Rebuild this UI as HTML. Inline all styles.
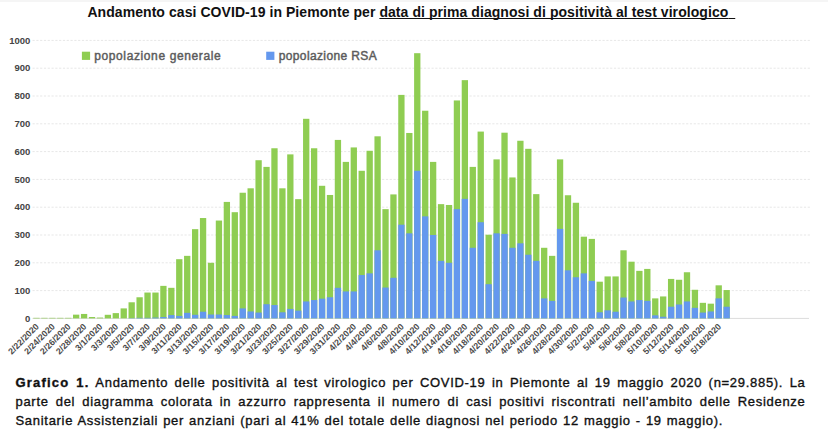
<!DOCTYPE html>
<html><head><meta charset="utf-8">
<style>
html,body{margin:0;padding:0;background:#fff;}
body{width:828px;height:436px;position:relative;overflow:hidden;font-family:"Liberation Sans",sans-serif;}
.topband{position:absolute;left:0;top:0;width:828px;height:1.5px;background:#f5f5f5;}
.title{position:absolute;left:87.4px;top:3px;width:740px;text-align:left;font-weight:bold;font-size:14px;line-height:18px;color:#111;white-space:pre;letter-spacing:0.065px;}
.title span.t{display:inline-block;}
.title u{text-decoration:underline;text-decoration-thickness:1.3px;text-underline-offset:1.2px;text-decoration-skip-ink:none;}
svg text{font-family:"Liberation Sans",sans-serif;}
.yl{font-size:9.5px;font-weight:bold;fill:#444;}
.xl{font-size:8.8px;font-weight:bold;fill:#4a4a4a;}
.lg{font-size:12px;font-weight:normal;fill:#5c5c5c;stroke:#5c5c5c;stroke-width:0.45px;}
.cap{position:absolute;left:15.5px;top:372.6px;width:790px;font-size:13px;line-height:19.25px;color:#111;letter-spacing:0.7px;-webkit-text-stroke:0.35px #111;}
.cap b{letter-spacing:1.2px;}
.cap div{text-align:justify;text-align-last:justify;white-space:nowrap;height:19.25px;}
.cap div.last{text-align:left;text-align-last:left;width:707.5px;text-align:justify;text-align-last:justify;}
</style></head><body>
<div class="topband"></div>
<div class="title"><span class="t" id="ttl">Andamento casi COVID-19 in Piemonte per <u>data di prima diagnosi di positività al test virologico<span style="letter-spacing:3px"> </span></u></span></div>
<svg width="828" height="370" viewBox="0 0 828 370" style="position:absolute;left:0;top:0">
<line x1="32.5" y1="290.60" x2="810" y2="290.60" stroke="#e7e7e7" stroke-width="1" stroke-dasharray="2.2 1.6"/>
<line x1="32.5" y1="262.80" x2="810" y2="262.80" stroke="#e7e7e7" stroke-width="1" stroke-dasharray="2.2 1.6"/>
<line x1="32.5" y1="235.00" x2="810" y2="235.00" stroke="#e7e7e7" stroke-width="1" stroke-dasharray="2.2 1.6"/>
<line x1="32.5" y1="207.20" x2="810" y2="207.20" stroke="#e7e7e7" stroke-width="1" stroke-dasharray="2.2 1.6"/>
<line x1="32.5" y1="179.40" x2="810" y2="179.40" stroke="#e7e7e7" stroke-width="1" stroke-dasharray="2.2 1.6"/>
<line x1="32.5" y1="151.60" x2="810" y2="151.60" stroke="#e7e7e7" stroke-width="1" stroke-dasharray="2.2 1.6"/>
<line x1="32.5" y1="123.80" x2="810" y2="123.80" stroke="#e7e7e7" stroke-width="1" stroke-dasharray="2.2 1.6"/>
<line x1="32.5" y1="96.00" x2="810" y2="96.00" stroke="#e7e7e7" stroke-width="1" stroke-dasharray="2.2 1.6"/>
<line x1="32.5" y1="68.20" x2="810" y2="68.20" stroke="#e7e7e7" stroke-width="1" stroke-dasharray="2.2 1.6"/>
<line x1="32.5" y1="40.40" x2="810" y2="40.40" stroke="#e7e7e7" stroke-width="1" stroke-dasharray="2.2 1.6"/>
<line x1="32.5" y1="318.40" x2="809" y2="318.40" stroke="#dcdcdc" stroke-width="1"/>
<rect x="33.33" y="317.84" width="6.3" height="0.56" fill="#8fcd52"/>
<rect x="41.26" y="317.84" width="6.3" height="0.56" fill="#8fcd52"/>
<rect x="49.20" y="317.84" width="6.3" height="0.56" fill="#8fcd52"/>
<rect x="57.13" y="317.84" width="6.3" height="0.56" fill="#8fcd52"/>
<rect x="65.06" y="317.84" width="6.3" height="0.56" fill="#8fcd52"/>
<rect x="73.00" y="314.65" width="6.3" height="3.75" fill="#8fcd52"/>
<rect x="80.93" y="313.95" width="6.3" height="4.45" fill="#8fcd52"/>
<rect x="88.86" y="317.01" width="6.3" height="1.39" fill="#8fcd52"/>
<rect x="96.79" y="317.57" width="6.3" height="0.83" fill="#8fcd52"/>
<rect x="104.73" y="314.79" width="6.3" height="3.61" fill="#8fcd52"/>
<rect x="112.66" y="313.12" width="6.3" height="5.28" fill="#8fcd52"/>
<rect x="120.59" y="308.39" width="6.3" height="10.01" fill="#8fcd52"/>
<rect x="128.53" y="302.28" width="6.3" height="16.12" fill="#8fcd52"/>
<rect x="128.53" y="318.12" width="6.3" height="0.28" fill="#6498ee"/>
<rect x="136.46" y="297.27" width="6.3" height="21.13" fill="#8fcd52"/>
<rect x="136.46" y="317.84" width="6.3" height="0.56" fill="#6498ee"/>
<rect x="144.39" y="292.55" width="6.3" height="25.85" fill="#8fcd52"/>
<rect x="144.39" y="317.84" width="6.3" height="0.56" fill="#6498ee"/>
<rect x="152.32" y="292.55" width="6.3" height="25.85" fill="#8fcd52"/>
<rect x="152.32" y="317.57" width="6.3" height="0.83" fill="#6498ee"/>
<rect x="160.26" y="285.87" width="6.3" height="32.53" fill="#8fcd52"/>
<rect x="160.26" y="317.01" width="6.3" height="1.39" fill="#6498ee"/>
<rect x="168.19" y="287.82" width="6.3" height="30.58" fill="#8fcd52"/>
<rect x="168.19" y="315.06" width="6.3" height="3.34" fill="#6498ee"/>
<rect x="176.12" y="259.19" width="6.3" height="59.21" fill="#8fcd52"/>
<rect x="176.12" y="315.90" width="6.3" height="2.50" fill="#6498ee"/>
<rect x="184.06" y="255.85" width="6.3" height="62.55" fill="#8fcd52"/>
<rect x="184.06" y="312.84" width="6.3" height="5.56" fill="#6498ee"/>
<rect x="191.99" y="229.16" width="6.3" height="89.24" fill="#8fcd52"/>
<rect x="191.99" y="314.79" width="6.3" height="3.61" fill="#6498ee"/>
<rect x="199.92" y="218.04" width="6.3" height="100.36" fill="#8fcd52"/>
<rect x="199.92" y="311.73" width="6.3" height="6.67" fill="#6498ee"/>
<rect x="207.86" y="262.80" width="6.3" height="55.60" fill="#8fcd52"/>
<rect x="207.86" y="314.51" width="6.3" height="3.89" fill="#6498ee"/>
<rect x="215.79" y="220.54" width="6.3" height="97.86" fill="#8fcd52"/>
<rect x="215.79" y="314.51" width="6.3" height="3.89" fill="#6498ee"/>
<rect x="223.72" y="201.92" width="6.3" height="116.48" fill="#8fcd52"/>
<rect x="223.72" y="315.06" width="6.3" height="3.34" fill="#6498ee"/>
<rect x="231.65" y="212.20" width="6.3" height="106.20" fill="#8fcd52"/>
<rect x="231.65" y="315.90" width="6.3" height="2.50" fill="#6498ee"/>
<rect x="239.59" y="192.74" width="6.3" height="125.66" fill="#8fcd52"/>
<rect x="239.59" y="308.39" width="6.3" height="10.01" fill="#6498ee"/>
<rect x="247.52" y="188.30" width="6.3" height="130.10" fill="#8fcd52"/>
<rect x="247.52" y="311.45" width="6.3" height="6.95" fill="#6498ee"/>
<rect x="255.45" y="160.22" width="6.3" height="158.18" fill="#8fcd52"/>
<rect x="255.45" y="312.56" width="6.3" height="5.84" fill="#6498ee"/>
<rect x="263.39" y="166.89" width="6.3" height="151.51" fill="#8fcd52"/>
<rect x="263.39" y="304.22" width="6.3" height="14.18" fill="#6498ee"/>
<rect x="271.32" y="148.26" width="6.3" height="170.14" fill="#8fcd52"/>
<rect x="271.32" y="305.06" width="6.3" height="13.34" fill="#6498ee"/>
<rect x="279.25" y="188.30" width="6.3" height="130.10" fill="#8fcd52"/>
<rect x="279.25" y="312.28" width="6.3" height="6.12" fill="#6498ee"/>
<rect x="287.19" y="154.38" width="6.3" height="164.02" fill="#8fcd52"/>
<rect x="287.19" y="308.95" width="6.3" height="9.45" fill="#6498ee"/>
<rect x="295.12" y="199.14" width="6.3" height="119.26" fill="#8fcd52"/>
<rect x="295.12" y="310.62" width="6.3" height="7.78" fill="#6498ee"/>
<rect x="303.05" y="118.80" width="6.3" height="199.60" fill="#8fcd52"/>
<rect x="303.05" y="301.44" width="6.3" height="16.96" fill="#6498ee"/>
<rect x="310.98" y="148.26" width="6.3" height="170.14" fill="#8fcd52"/>
<rect x="310.98" y="300.05" width="6.3" height="18.35" fill="#6498ee"/>
<rect x="318.92" y="185.79" width="6.3" height="132.61" fill="#8fcd52"/>
<rect x="318.92" y="298.66" width="6.3" height="19.74" fill="#6498ee"/>
<rect x="326.85" y="194.97" width="6.3" height="123.43" fill="#8fcd52"/>
<rect x="326.85" y="297.27" width="6.3" height="21.13" fill="#6498ee"/>
<rect x="334.78" y="139.92" width="6.3" height="178.48" fill="#8fcd52"/>
<rect x="334.78" y="287.82" width="6.3" height="30.58" fill="#6498ee"/>
<rect x="342.72" y="161.89" width="6.3" height="156.51" fill="#8fcd52"/>
<rect x="342.72" y="291.43" width="6.3" height="26.97" fill="#6498ee"/>
<rect x="350.65" y="147.43" width="6.3" height="170.97" fill="#8fcd52"/>
<rect x="350.65" y="291.43" width="6.3" height="26.97" fill="#6498ee"/>
<rect x="358.58" y="170.78" width="6.3" height="147.62" fill="#8fcd52"/>
<rect x="358.58" y="275.03" width="6.3" height="43.37" fill="#6498ee"/>
<rect x="366.52" y="150.77" width="6.3" height="167.63" fill="#8fcd52"/>
<rect x="366.52" y="273.36" width="6.3" height="45.04" fill="#6498ee"/>
<rect x="374.45" y="136.31" width="6.3" height="182.09" fill="#8fcd52"/>
<rect x="374.45" y="250.29" width="6.3" height="68.11" fill="#6498ee"/>
<rect x="382.38" y="209.15" width="6.3" height="109.25" fill="#8fcd52"/>
<rect x="382.38" y="287.54" width="6.3" height="30.86" fill="#6498ee"/>
<rect x="390.31" y="194.41" width="6.3" height="123.99" fill="#8fcd52"/>
<rect x="390.31" y="277.81" width="6.3" height="40.59" fill="#6498ee"/>
<rect x="398.25" y="94.89" width="6.3" height="223.51" fill="#8fcd52"/>
<rect x="398.25" y="224.71" width="6.3" height="93.69" fill="#6498ee"/>
<rect x="406.18" y="132.97" width="6.3" height="185.43" fill="#8fcd52"/>
<rect x="406.18" y="233.33" width="6.3" height="85.07" fill="#6498ee"/>
<rect x="414.11" y="53.19" width="6.3" height="265.21" fill="#8fcd52"/>
<rect x="414.11" y="170.78" width="6.3" height="147.62" fill="#6498ee"/>
<rect x="422.05" y="110.73" width="6.3" height="207.67" fill="#8fcd52"/>
<rect x="422.05" y="216.37" width="6.3" height="102.03" fill="#6498ee"/>
<rect x="429.98" y="161.89" width="6.3" height="156.51" fill="#8fcd52"/>
<rect x="429.98" y="235.00" width="6.3" height="83.40" fill="#6498ee"/>
<rect x="437.91" y="204.14" width="6.3" height="114.26" fill="#8fcd52"/>
<rect x="437.91" y="260.85" width="6.3" height="57.55" fill="#6498ee"/>
<rect x="445.85" y="204.98" width="6.3" height="113.42" fill="#8fcd52"/>
<rect x="445.85" y="262.80" width="6.3" height="55.60" fill="#6498ee"/>
<rect x="453.78" y="100.45" width="6.3" height="217.95" fill="#8fcd52"/>
<rect x="453.78" y="209.15" width="6.3" height="109.25" fill="#6498ee"/>
<rect x="461.71" y="80.15" width="6.3" height="238.25" fill="#8fcd52"/>
<rect x="461.71" y="198.86" width="6.3" height="119.54" fill="#6498ee"/>
<rect x="469.64" y="166.89" width="6.3" height="151.51" fill="#8fcd52"/>
<rect x="469.64" y="247.79" width="6.3" height="70.61" fill="#6498ee"/>
<rect x="477.58" y="131.58" width="6.3" height="186.82" fill="#8fcd52"/>
<rect x="477.58" y="222.21" width="6.3" height="96.19" fill="#6498ee"/>
<rect x="485.51" y="234.72" width="6.3" height="83.68" fill="#8fcd52"/>
<rect x="485.51" y="284.21" width="6.3" height="34.19" fill="#6498ee"/>
<rect x="493.44" y="159.38" width="6.3" height="159.02" fill="#8fcd52"/>
<rect x="493.44" y="233.33" width="6.3" height="85.07" fill="#6498ee"/>
<rect x="501.38" y="132.70" width="6.3" height="185.70" fill="#8fcd52"/>
<rect x="501.38" y="233.89" width="6.3" height="84.51" fill="#6498ee"/>
<rect x="509.31" y="177.45" width="6.3" height="140.95" fill="#8fcd52"/>
<rect x="509.31" y="247.79" width="6.3" height="70.61" fill="#6498ee"/>
<rect x="517.24" y="140.76" width="6.3" height="177.64" fill="#8fcd52"/>
<rect x="517.24" y="243.34" width="6.3" height="75.06" fill="#6498ee"/>
<rect x="525.18" y="148.82" width="6.3" height="169.58" fill="#8fcd52"/>
<rect x="525.18" y="254.74" width="6.3" height="63.66" fill="#6498ee"/>
<rect x="533.11" y="194.13" width="6.3" height="124.27" fill="#8fcd52"/>
<rect x="533.11" y="260.85" width="6.3" height="57.55" fill="#6498ee"/>
<rect x="541.04" y="247.79" width="6.3" height="70.61" fill="#8fcd52"/>
<rect x="541.04" y="298.38" width="6.3" height="20.02" fill="#6498ee"/>
<rect x="548.98" y="255.85" width="6.3" height="62.55" fill="#8fcd52"/>
<rect x="548.98" y="300.89" width="6.3" height="17.51" fill="#6498ee"/>
<rect x="556.91" y="159.38" width="6.3" height="159.02" fill="#8fcd52"/>
<rect x="556.91" y="228.88" width="6.3" height="89.52" fill="#6498ee"/>
<rect x="564.84" y="195.25" width="6.3" height="123.15" fill="#8fcd52"/>
<rect x="564.84" y="270.31" width="6.3" height="48.09" fill="#6498ee"/>
<rect x="572.77" y="202.75" width="6.3" height="115.65" fill="#8fcd52"/>
<rect x="572.77" y="277.26" width="6.3" height="41.14" fill="#6498ee"/>
<rect x="580.71" y="236.67" width="6.3" height="81.73" fill="#8fcd52"/>
<rect x="580.71" y="273.36" width="6.3" height="45.04" fill="#6498ee"/>
<rect x="588.64" y="238.89" width="6.3" height="79.51" fill="#8fcd52"/>
<rect x="588.64" y="280.87" width="6.3" height="37.53" fill="#6498ee"/>
<rect x="596.57" y="281.70" width="6.3" height="36.70" fill="#8fcd52"/>
<rect x="596.57" y="312.28" width="6.3" height="6.12" fill="#6498ee"/>
<rect x="604.51" y="276.42" width="6.3" height="41.98" fill="#8fcd52"/>
<rect x="604.51" y="310.34" width="6.3" height="8.06" fill="#6498ee"/>
<rect x="612.44" y="276.42" width="6.3" height="41.98" fill="#8fcd52"/>
<rect x="612.44" y="311.73" width="6.3" height="6.67" fill="#6498ee"/>
<rect x="620.37" y="250.29" width="6.3" height="68.11" fill="#8fcd52"/>
<rect x="620.37" y="297.55" width="6.3" height="20.85" fill="#6498ee"/>
<rect x="628.31" y="261.69" width="6.3" height="56.71" fill="#8fcd52"/>
<rect x="628.31" y="301.44" width="6.3" height="16.96" fill="#6498ee"/>
<rect x="636.24" y="270.86" width="6.3" height="47.54" fill="#8fcd52"/>
<rect x="636.24" y="300.05" width="6.3" height="18.35" fill="#6498ee"/>
<rect x="644.17" y="268.92" width="6.3" height="49.48" fill="#8fcd52"/>
<rect x="644.17" y="300.89" width="6.3" height="17.51" fill="#6498ee"/>
<rect x="652.10" y="298.38" width="6.3" height="20.02" fill="#8fcd52"/>
<rect x="652.10" y="315.34" width="6.3" height="3.06" fill="#6498ee"/>
<rect x="660.04" y="296.44" width="6.3" height="21.96" fill="#8fcd52"/>
<rect x="660.04" y="316.73" width="6.3" height="1.67" fill="#6498ee"/>
<rect x="667.97" y="278.92" width="6.3" height="39.48" fill="#8fcd52"/>
<rect x="667.97" y="306.72" width="6.3" height="11.68" fill="#6498ee"/>
<rect x="675.90" y="279.76" width="6.3" height="38.64" fill="#8fcd52"/>
<rect x="675.90" y="304.50" width="6.3" height="13.90" fill="#6498ee"/>
<rect x="683.84" y="272.25" width="6.3" height="46.15" fill="#8fcd52"/>
<rect x="683.84" y="301.44" width="6.3" height="16.96" fill="#6498ee"/>
<rect x="691.77" y="289.77" width="6.3" height="28.63" fill="#8fcd52"/>
<rect x="691.77" y="307.84" width="6.3" height="10.56" fill="#6498ee"/>
<rect x="699.70" y="302.83" width="6.3" height="15.57" fill="#8fcd52"/>
<rect x="699.70" y="312.56" width="6.3" height="5.84" fill="#6498ee"/>
<rect x="707.63" y="303.67" width="6.3" height="14.73" fill="#8fcd52"/>
<rect x="707.63" y="311.45" width="6.3" height="6.95" fill="#6498ee"/>
<rect x="715.57" y="285.32" width="6.3" height="33.08" fill="#8fcd52"/>
<rect x="715.57" y="298.38" width="6.3" height="20.02" fill="#6498ee"/>
<rect x="723.50" y="290.04" width="6.3" height="28.36" fill="#8fcd52"/>
<rect x="723.50" y="306.72" width="6.3" height="11.68" fill="#6498ee"/>
<text x="30.3" y="321.50" text-anchor="end" class="yl">0</text>
<text x="30.3" y="293.70" text-anchor="end" class="yl">100</text>
<text x="30.3" y="265.90" text-anchor="end" class="yl">200</text>
<text x="30.3" y="238.10" text-anchor="end" class="yl">300</text>
<text x="30.3" y="210.30" text-anchor="end" class="yl">400</text>
<text x="30.3" y="182.50" text-anchor="end" class="yl">500</text>
<text x="30.3" y="154.70" text-anchor="end" class="yl">600</text>
<text x="30.3" y="126.90" text-anchor="end" class="yl">700</text>
<text x="30.3" y="99.10" text-anchor="end" class="yl">800</text>
<text x="30.3" y="71.30" text-anchor="end" class="yl">900</text>
<text x="30.3" y="43.50" text-anchor="end" class="yl">1000</text>
<text transform="translate(39.48,327.2) rotate(-45)" text-anchor="end" class="xl">2/22/2020</text>
<text transform="translate(55.35,327.2) rotate(-45)" text-anchor="end" class="xl">2/24/2020</text>
<text transform="translate(71.21,327.2) rotate(-45)" text-anchor="end" class="xl">2/26/2020</text>
<text transform="translate(87.08,327.2) rotate(-45)" text-anchor="end" class="xl">2/28/2020</text>
<text transform="translate(102.94,327.2) rotate(-45)" text-anchor="end" class="xl">3/1/2020</text>
<text transform="translate(118.81,327.2) rotate(-45)" text-anchor="end" class="xl">3/3/2020</text>
<text transform="translate(134.68,327.2) rotate(-45)" text-anchor="end" class="xl">3/5/2020</text>
<text transform="translate(150.54,327.2) rotate(-45)" text-anchor="end" class="xl">3/7/2020</text>
<text transform="translate(166.41,327.2) rotate(-45)" text-anchor="end" class="xl">3/9/2020</text>
<text transform="translate(182.27,327.2) rotate(-45)" text-anchor="end" class="xl">3/11/2020</text>
<text transform="translate(198.14,327.2) rotate(-45)" text-anchor="end" class="xl">3/13/2020</text>
<text transform="translate(214.01,327.2) rotate(-45)" text-anchor="end" class="xl">3/15/2020</text>
<text transform="translate(229.87,327.2) rotate(-45)" text-anchor="end" class="xl">3/17/2020</text>
<text transform="translate(245.74,327.2) rotate(-45)" text-anchor="end" class="xl">3/19/2020</text>
<text transform="translate(261.60,327.2) rotate(-45)" text-anchor="end" class="xl">3/21/2020</text>
<text transform="translate(277.47,327.2) rotate(-45)" text-anchor="end" class="xl">3/23/2020</text>
<text transform="translate(293.34,327.2) rotate(-45)" text-anchor="end" class="xl">3/25/2020</text>
<text transform="translate(309.20,327.2) rotate(-45)" text-anchor="end" class="xl">3/27/2020</text>
<text transform="translate(325.07,327.2) rotate(-45)" text-anchor="end" class="xl">3/29/2020</text>
<text transform="translate(340.93,327.2) rotate(-45)" text-anchor="end" class="xl">3/31/2020</text>
<text transform="translate(356.80,327.2) rotate(-45)" text-anchor="end" class="xl">4/2/2020</text>
<text transform="translate(372.67,327.2) rotate(-45)" text-anchor="end" class="xl">4/4/2020</text>
<text transform="translate(388.53,327.2) rotate(-45)" text-anchor="end" class="xl">4/6/2020</text>
<text transform="translate(404.40,327.2) rotate(-45)" text-anchor="end" class="xl">4/8/2020</text>
<text transform="translate(420.26,327.2) rotate(-45)" text-anchor="end" class="xl">4/10/2020</text>
<text transform="translate(436.13,327.2) rotate(-45)" text-anchor="end" class="xl">4/12/2020</text>
<text transform="translate(452.00,327.2) rotate(-45)" text-anchor="end" class="xl">4/14/2020</text>
<text transform="translate(467.86,327.2) rotate(-45)" text-anchor="end" class="xl">4/16/2020</text>
<text transform="translate(483.73,327.2) rotate(-45)" text-anchor="end" class="xl">4/18/2020</text>
<text transform="translate(499.59,327.2) rotate(-45)" text-anchor="end" class="xl">4/20/2020</text>
<text transform="translate(515.46,327.2) rotate(-45)" text-anchor="end" class="xl">4/22/2020</text>
<text transform="translate(531.33,327.2) rotate(-45)" text-anchor="end" class="xl">4/24/2020</text>
<text transform="translate(547.19,327.2) rotate(-45)" text-anchor="end" class="xl">4/26/2020</text>
<text transform="translate(563.06,327.2) rotate(-45)" text-anchor="end" class="xl">4/28/2020</text>
<text transform="translate(578.92,327.2) rotate(-45)" text-anchor="end" class="xl">4/30/2020</text>
<text transform="translate(594.79,327.2) rotate(-45)" text-anchor="end" class="xl">5/2/2020</text>
<text transform="translate(610.66,327.2) rotate(-45)" text-anchor="end" class="xl">5/4/2020</text>
<text transform="translate(626.52,327.2) rotate(-45)" text-anchor="end" class="xl">5/6/2020</text>
<text transform="translate(642.39,327.2) rotate(-45)" text-anchor="end" class="xl">5/8/2020</text>
<text transform="translate(658.25,327.2) rotate(-45)" text-anchor="end" class="xl">5/10/2020</text>
<text transform="translate(674.12,327.2) rotate(-45)" text-anchor="end" class="xl">5/12/2020</text>
<text transform="translate(689.99,327.2) rotate(-45)" text-anchor="end" class="xl">5/14/2020</text>
<text transform="translate(705.85,327.2) rotate(-45)" text-anchor="end" class="xl">5/16/2020</text>
<text transform="translate(721.72,327.2) rotate(-45)" text-anchor="end" class="xl">5/18/2020</text>
<rect x="81.9" y="51.7" width="8.2" height="8.2" fill="#8fcd52"/>
<text x="94.2" y="60" class="lg" textLength="126.5" lengthAdjust="spacing">popolazione generale</text>
<rect x="266.2" y="51.7" width="8.2" height="8.2" fill="#6498ee"/>
<text x="278.7" y="60" class="lg" textLength="98" lengthAdjust="spacing">popolazione RSA</text>
</svg>
<div class="cap">
<div><b>Grafico 1.</b> Andamento delle positività al test virologico per COVID-19 in Piemonte al 19 maggio 2020 (n=29.885). La</div>
<div>parte del diagramma colorata in azzurro rappresenta il numero di casi positivi riscontrati nell’ambito delle Residenze</div>
<div class="last">Sanitarie Assistenziali per anziani (pari al 41% del totale delle diagnosi nel periodo 12 maggio - 19 maggio).</div>
</div>
</body></html>
